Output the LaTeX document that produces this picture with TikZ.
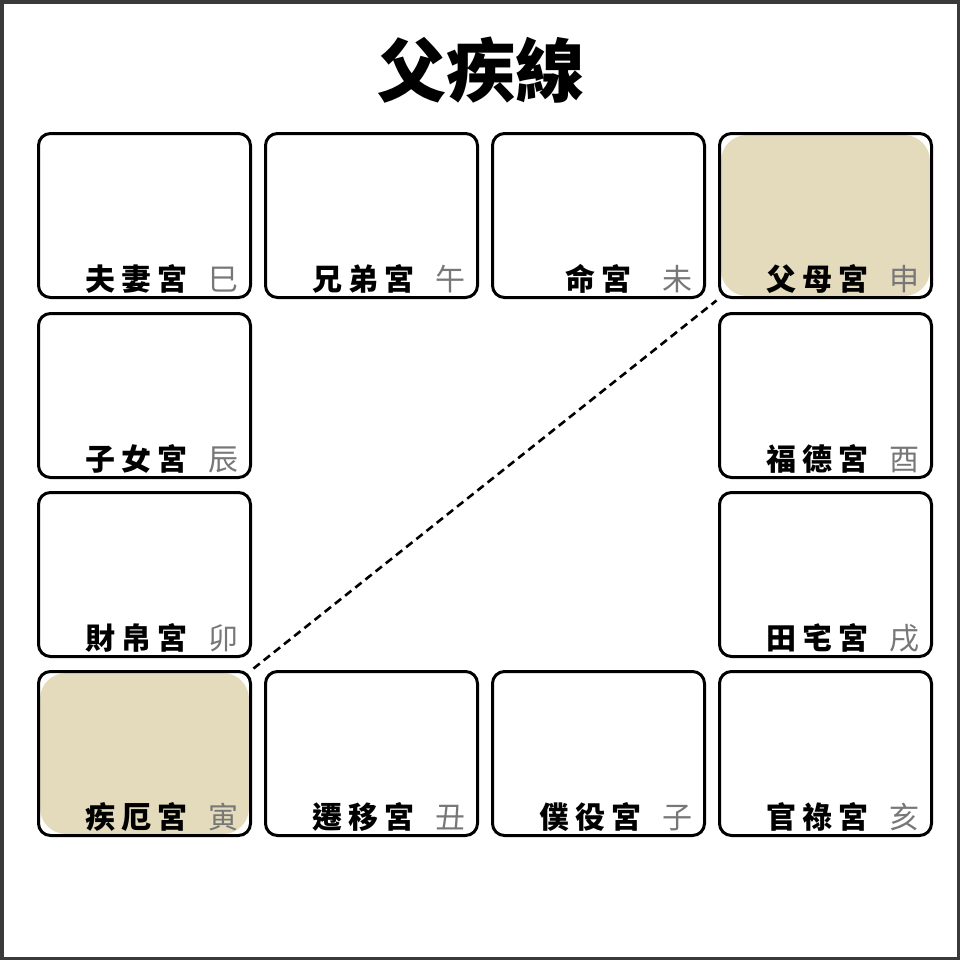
\documentclass[tikz,border=0pt]{standalone}
\usepackage{fontspec}
\newfontfamily\cjk{Noto Sans CJK TC}
\definecolor{beige}{HTML}{E4DBBC}
\definecolor{branch}{HTML}{777777}
\definecolor{frame}{HTML}{3A3A3A}
\tikzset{
  palace/.style={draw=black, line width=3bp, rounded corners=12bp, minimum width=212bp, minimum height=164bp, inner sep=0, outer sep=0, anchor=north west},
  pname/.style={anchor=base east, inner sep=0, font=\cjk\bfseries\fontsize{30bp}{30bp}\selectfont},
  pbranch/.style={anchor=base, inner sep=0, text=branch, font=\cjk\fontsize{30bp}{30bp}\selectfont},
  link/.style={draw=black, line width=2.6bp, dash pattern=on 8bp off 5bp}
}
\newcommand{\palacebox}[7]{% name, x, y, label, branch, name offset, fill
  \ifnum#7=1 \fill[beige, rounded corners=26bp] (#2+3,#3+3) rectangle (#2+212,#3+164);\fi
  \node[palace] (#1) at (#2+1.5,#3+1.5) {};
  \node[pname] (#1-n) at (#2+#6,#3+158) {#4};
  \node[pbranch] (#1-b) at (#2+186.5,#3+158) {#5};
}
\begin{document}
\begin{tikzpicture}[x=1bp,y=-1bp]
\useasboundingbox (0,0) rectangle (960,960);
\draw[frame, line width=3.5bp] (1.75,1.75) rectangle (958.25,958.25);
\node[inner sep=0, font=\cjk\bfseries\fontsize{69bp}{69bp}\selectfont] (title) at (481,70) {父疾線};
% top row
\palacebox{fuqi}{37}{132}{夫\kern6bp 妻\kern6bp 宮}{巳}{151}{0}
\palacebox{xiongdi}{264}{132}{兄\kern6bp 弟\kern6bp 宮}{午}{151}{0}
\palacebox{ming}{491}{132}{命\kern6bp 宮}{未}{141}{0}
\palacebox{fumu}{718}{132}{父\kern6bp 母\kern6bp 宮}{申}{151}{1}
% right column
\palacebox{fude}{718}{312}{福\kern6bp 德\kern6bp 宮}{酉}{151}{0}
\palacebox{tianzhai}{718}{491}{田\kern6bp 宅\kern6bp 宮}{戌}{151}{0}
\palacebox{guanlu}{718}{670}{官\kern6bp 祿\kern6bp 宮}{亥}{151}{0}
% bottom row
\palacebox{puyi}{491}{670}{僕\kern6bp 役\kern6bp 宮}{子}{151}{0}
\palacebox{qianyi}{264}{670}{遷\kern6bp 移\kern6bp 宮}{丑}{151}{0}
\palacebox{jie}{37}{670}{疾\kern6bp 厄\kern6bp 宮}{寅}{151}{1}
% left column
\palacebox{caibo}{37}{491}{財\kern6bp 帛\kern6bp 宮}{卯}{151}{0}
\palacebox{zinv}{37}{312}{子\kern6bp 女\kern6bp 宮}{辰}{151}{0}
% link
\draw[link] ([shift={(3,-3)}]jie.north east) -- ([shift={(-3,3)}]fumu.south west);
\end{tikzpicture}
\end{document}
